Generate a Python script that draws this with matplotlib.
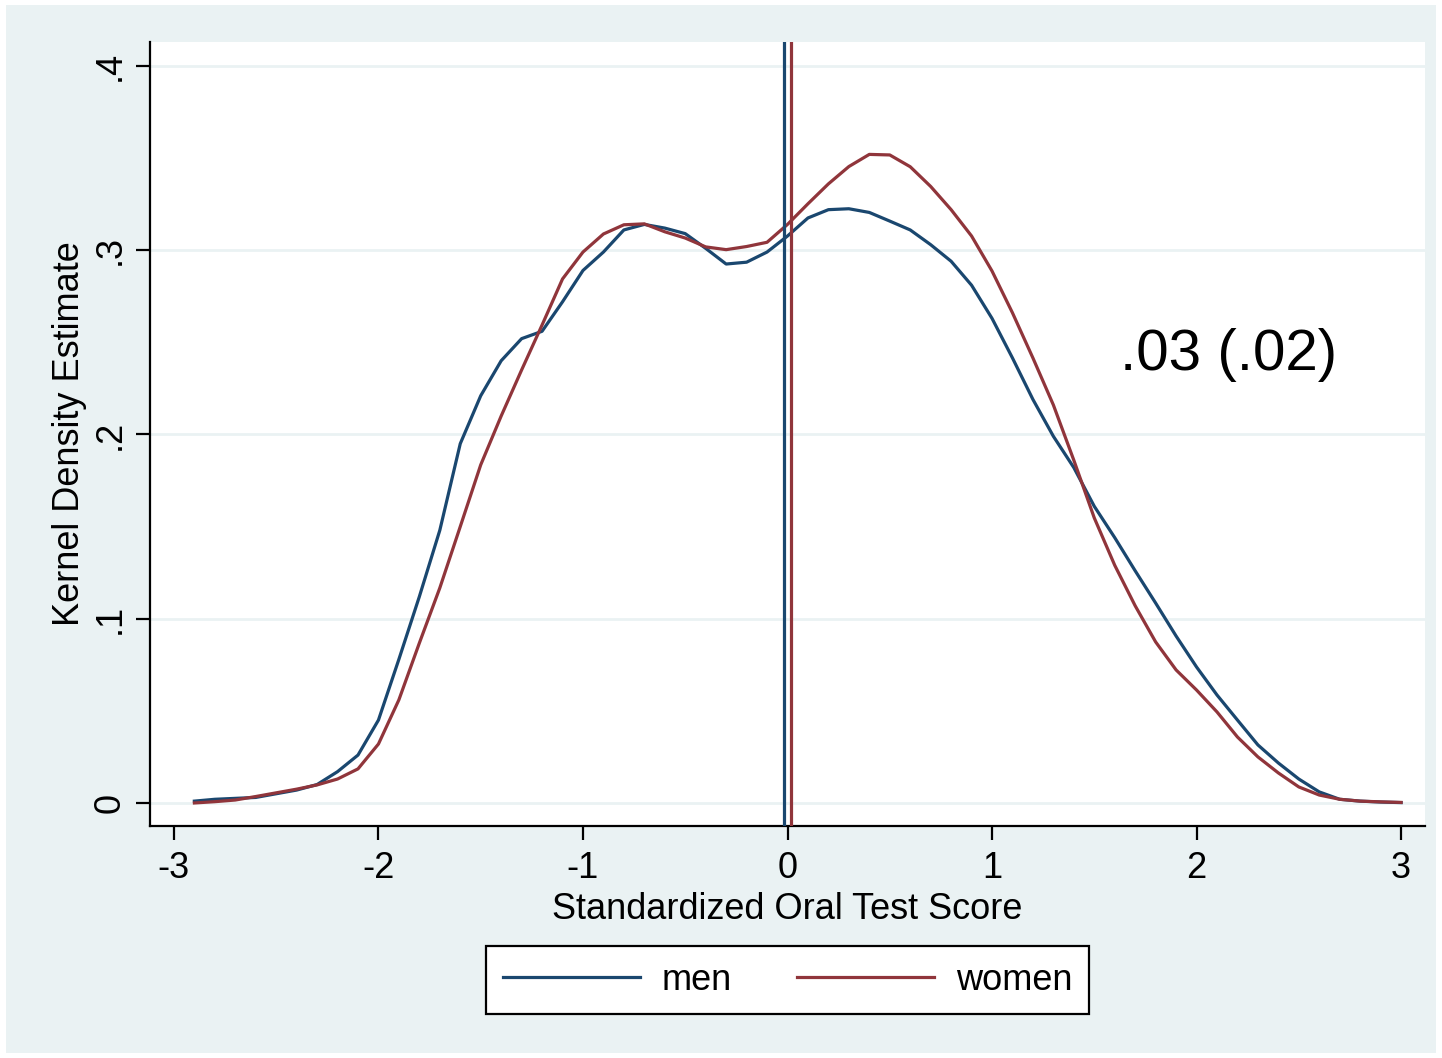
import matplotlib
matplotlib.use("Agg")
import matplotlib.pyplot as plt
from matplotlib.patches import Rectangle
import numpy as np

plt.rcParams['font.family'] = ['Liberation Sans', 'DejaVu Sans']

# kernel density estimates of the standardized oral test score, evaluated on a 0.1 grid
grid = np.round(np.arange(-2.9, 3.01, 0.1), 1)
men = [0.001, 0.002, 0.0025, 0.003, 0.005, 0.007, 0.010, 0.017, 0.026, 0.045,
       0.078, 0.112, 0.148, 0.195, 0.221, 0.240, 0.252, 0.256, 0.272, 0.289,
       0.299, 0.311, 0.314, 0.312, 0.309, 0.301, 0.2925, 0.2935, 0.299, 0.3077,
       0.3175, 0.322, 0.3225, 0.3205, 0.3158, 0.311, 0.303, 0.294, 0.281, 0.263,
       0.2415, 0.219, 0.199, 0.182, 0.161, 0.144, 0.126, 0.1085, 0.0906, 0.0738,
       0.0586, 0.045, 0.0315, 0.0217, 0.013, 0.006, 0.002, 0.001, 0.0005, 0.0002]
women = [0.0, 0.0007, 0.0016, 0.0035, 0.0055, 0.0075, 0.0098, 0.013, 0.0185, 0.032,
         0.056, 0.0868, 0.1167, 0.150, 0.1835, 0.210, 0.235, 0.2594, 0.2844, 0.299,
         0.3088, 0.3138, 0.3143, 0.310, 0.3066, 0.3018, 0.3003, 0.302, 0.3043, 0.314,
         0.3252, 0.336, 0.3454, 0.352, 0.3517, 0.3453, 0.3346, 0.322, 0.3077, 0.2887,
         0.266, 0.2415, 0.216, 0.186, 0.1547, 0.129, 0.107, 0.0874, 0.0722, 0.0613,
         0.0494, 0.0358, 0.025, 0.0163, 0.0087, 0.0043, 0.002, 0.001, 0.0006, 0.0003]

# group means and the gap between them
mean_men = -0.018
mean_women = 0.015
gap_text = ".03 (.02)"

xticks = [-3, -2, -1, 0, 1, 2, 3]
yticks = [0, 0.1, 0.2, 0.3, 0.4]
ytick_labels = ["0", ".1", ".2", ".3", ".4"]

blue = "#1A476F"
red = "#90353B"
bg = "#EAF2F3"

fig = plt.figure(figsize=(14.42, 10.58), dpi=100, facecolor="white")
fig.patches.append(Rectangle((6 / 1442, 5 / 1058), 1430 / 1442, 1048 / 1058,
                             transform=fig.transFigure, facecolor=bg,
                             edgecolor="none", zorder=-10))

ax = fig.add_axes([150 / 1442, 232 / 1058, 1275 / 1442, 784 / 1058])
ax.set_facecolor("white")

ax.plot(grid, men, color=blue, lw=2.3, label="men", zorder=3)
ax.plot(grid, women, color=red, lw=2.3, label="women", zorder=3)
ax.axvline(mean_men, color=blue, lw=2.3, zorder=3)
ax.axvline(mean_women, color=red, lw=2.3, zorder=3)

ax.text(1.625, 0.243, gap_text, fontsize=42, ha="left", va="center")

ax.set_xlim(-3.117, 3.117)
ax.set_ylim(-0.0125, 0.413)
ax.set_xticks(xticks)
ax.set_xticklabels([str(t) for t in xticks])
ax.set_yticks(yticks)
ax.set_yticklabels(ytick_labels, rotation=90, va="center")
for y in yticks:
    ax.axhline(y, color=bg, lw=2, zorder=1)

for side in ("top", "right"):
    ax.spines[side].set_visible(False)
for side in ("left", "bottom"):
    ax.spines[side].set_linewidth(1.6)
    ax.spines[side].set_color("black")

ax.tick_params(axis="both", direction="out", length=10, width=1.6,
               labelsize=26, color="black")
ax.tick_params(axis="x", pad=8)
ax.tick_params(axis="y", pad=6)

ax.set_xlabel("Standardized Oral Test Score", fontsize=26, labelpad=4)
ax.set_ylabel("Kernel Density Estimate", fontsize=26, labelpad=4)

leg = fig.legend(loc="center", bbox_to_anchor=(787.5 / 1442, 1 - 980 / 1058),
                 ncol=2, fontsize=26, frameon=True, fancybox=False,
                 edgecolor="black", framealpha=1, handlelength=3.8,
                 handletextpad=0.6, columnspacing=1.8, borderpad=0.45,
                 borderaxespad=0)
leg.get_frame().set_linewidth(1.6)

fig.savefig("out.png", dpi=100, facecolor=fig.get_facecolor())
